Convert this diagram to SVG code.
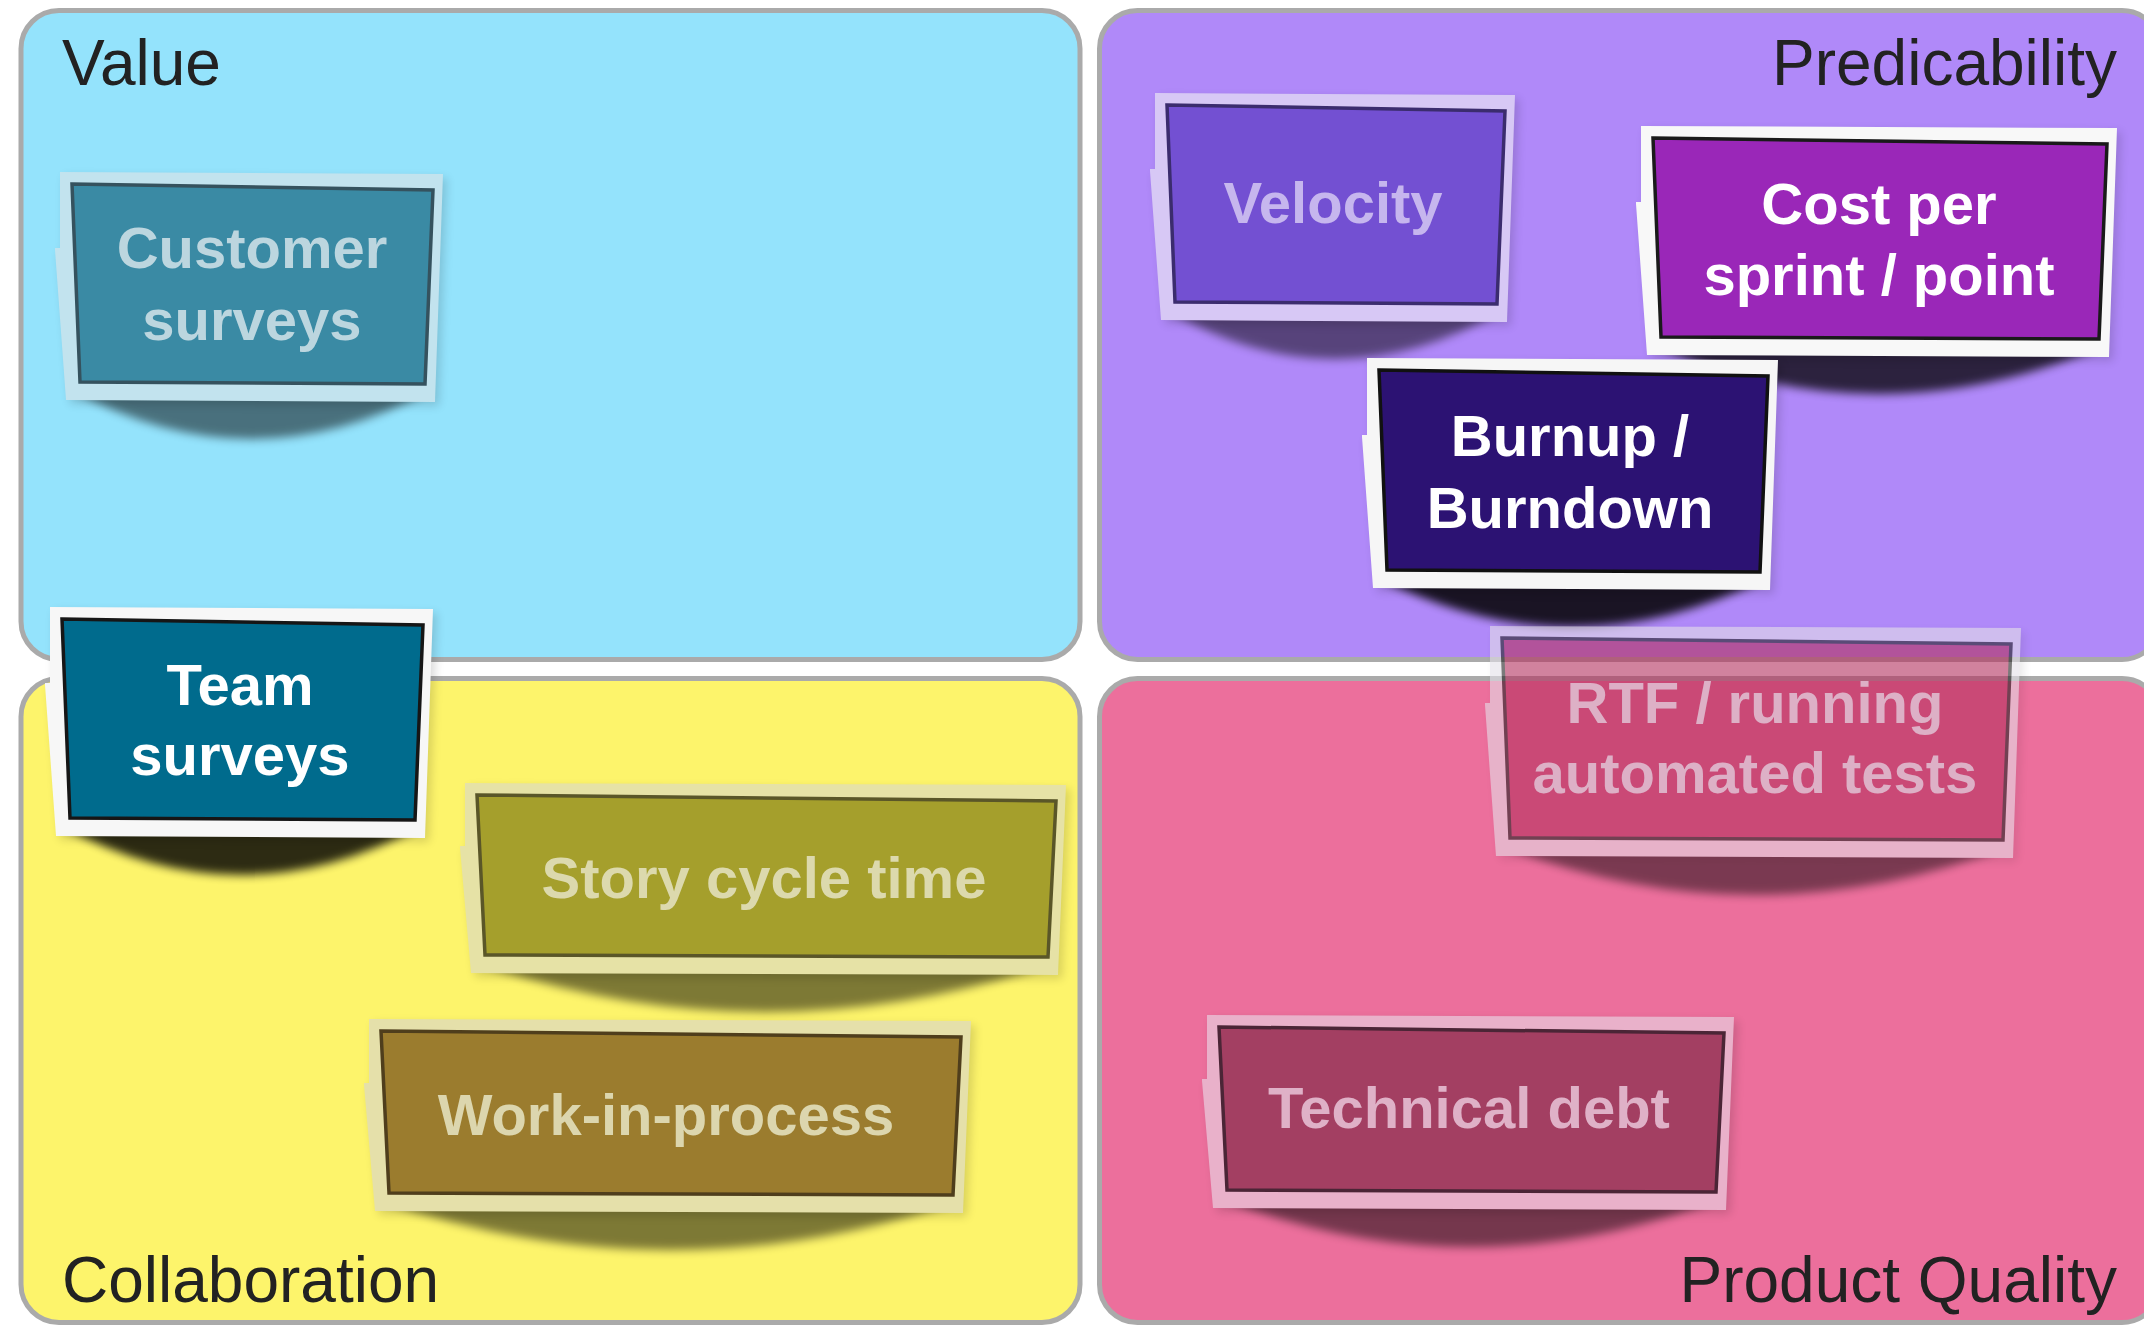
<svg xmlns="http://www.w3.org/2000/svg" width="2144" height="1326" viewBox="0 0 2144 1326">
  <defs>
    <filter id="soft" x="-20%" y="-150%" width="140%" height="400%">
      <feGaussianBlur stdDeviation="5"/>
    </filter>
    <filter id="halo" x="-10%" y="-20%" width="120%" height="140%">
      <feGaussianBlur stdDeviation="5"/>
    </filter>
  </defs>
  <style>
    .panel { stroke: #aaaaaa; stroke-width: 5; }
    .label { font-family: "Liberation Sans", Arial, sans-serif; font-size: 64px; fill: #222222; }
    .card-text { font-family: "Liberation Sans", Arial, sans-serif; font-size: 58px; font-weight: bold; text-anchor: middle; }
    .rim { stroke-width: 3.5; stroke-linejoin: miter; }
    .halo { fill: #000000; opacity: 0.14; filter: url(#halo); }
    .shadow { fill: #000000; filter: url(#soft); }
  </style>

  <!-- quadrant panels -->
  <g id="panels">
    <g id="panel-value">
      <rect class="panel" x="21" y="10.5" width="1059" height="649" rx="38" fill="#94e3fc"/>
      <text class="label" x="62" y="85">Value</text>
    </g>
    <g id="panel-predicability">
      <rect class="panel" x="1099.5" y="10.5" width="1060.5" height="649" rx="38" fill="#b089f9"/>
      <text class="label" x="2117" y="85" text-anchor="end">Predicability</text>
    </g>
    <g id="panel-collaboration">
      <rect class="panel" x="21" y="678.5" width="1059" height="644" rx="38" fill="#fdf46b"/>
      <text class="label" x="62" y="1302">Collaboration</text>
    </g>
    <g id="panel-quality">
      <rect class="panel" x="1099.5" y="678.5" width="1060.5" height="644" rx="38" fill="#ec6f9c"/>
      <text class="label" x="2117" y="1302" text-anchor="end">Product Quality</text>
    </g>
  </g>

  <!-- no connectors in this board -->
  <g id="connectors"/>

  <!-- metric cards: curled-paper shadow, light frame, dark rim, label -->
  <g id="cards">
    <g id="card-customer-surveys">
      <path class="shadow" opacity="0.5" d="M72,390 Q251,488 431,390 Z"/>
      <polygon class="halo" transform="translate(4,4)" points="60,172 443,174 435,402 66,400 55,250 55,248 60,248"/>
      <polygon fill="#c2e3ee" points="60,172 443,174 435,402 66,400 55,250 55,248 60,248"/>
      <polygon class="rim" fill="#3a8aa4" stroke="#35525e" points="72,184 433,190 425,384 80,382"/>
      <text class="card-text" fill="#bcd6df" x="252" y="268">Customer</text>
      <text class="card-text" fill="#bcd6df" x="252" y="340">surveys</text>
    </g>

    <g id="card-velocity">
      <path class="shadow" opacity="0.5" d="M1167,310 Q1335,408 1503,310 Z"/>
      <polygon class="halo" transform="translate(4,4)" points="1155,93 1515,95 1507,322 1161,320 1150,171 1150,169 1155,169"/>
      <polygon fill="#d7c8f5" points="1155,93 1515,95 1507,322 1161,320 1150,171 1150,169 1155,169"/>
      <polygon class="rim" fill="#7350d2" stroke="#3b2c6e" points="1167,105 1505,111 1497,304 1175,302"/>
      <text class="card-text" fill="#c6b6ee" x="1333" y="223">Velocity</text>
    </g>

    <g id="card-cost-per-sprint">
      <path class="shadow" opacity="0.75" d="M1653,345 Q1879,443 2105,345 Z"/>
      <polygon class="halo" transform="translate(4,4)" points="1641,126 2117,128 2109,357 1647,355 1636,204 1636,202 1641,202"/>
      <polygon fill="#f8f8f8" points="1641,126 2117,128 2109,357 1647,355 1636,204 1636,202 1641,202"/>
      <polygon class="rim" fill="#9a27b8" stroke="#1a1a1a" points="1653,138 2107,144 2099,339 1661,337"/>
      <text class="card-text" fill="#ffffff" x="1879" y="224">Cost per</text>
      <text class="card-text" fill="#ffffff" x="1879" y="295">sprint / point</text>
    </g>

    <g id="card-burnup-burndown">
      <path class="shadow" opacity="0.85" d="M1379,578 Q1572,676 1766,578 Z"/>
      <polygon class="halo" transform="translate(4,4)" points="1367,358 1778,360 1770,590 1373,588 1362,437 1362,435 1367,435"/>
      <polygon fill="#f6f6f6" points="1367,358 1778,360 1770,590 1373,588 1362,437 1362,435 1367,435"/>
      <polygon class="rim" fill="#2c1273" stroke="#111111" points="1379,370 1768,376 1760,572 1387,570"/>
      <text class="card-text" fill="#ffffff" x="1570" y="456">Burnup /</text>
      <text class="card-text" fill="#ffffff" x="1570" y="528">Burndown</text>
    </g>

    <g id="card-rtf">
      <g opacity="0.6">
        <path class="shadow" opacity="0.8" d="M1502,846 Q1755,944 2009,846 Z"/>
        <polygon class="halo" transform="translate(4,4)" points="1490,626 2021,628 2013,858 1496,856 1485,705 1485,703 1490,703"/>
        <polygon fill="#e4e0e8" points="1490,626 2021,628 2013,858 1496,856 1485,705 1485,703 1490,703"/>
        <polygon class="rim" fill="#b4305e" stroke="#222222" points="1502,638 2011,644 2003,840 1510,838"/>
      </g>
      <text class="card-text" fill="#ddb0c6" x="1755" y="723">RTF / running</text>
      <text class="card-text" fill="#ddb0c6" x="1755" y="793">automated tests</text>
    </g>

    <g id="card-team-surveys">
      <path class="shadow" opacity="0.82" d="M62,826 Q241,924 421,826 Z"/>
      <polygon class="halo" transform="translate(4,4)" points="50,607 433,609 425,838 56,836 45,685 45,683 50,683"/>
      <polygon fill="#f7f7f7" points="50,607 433,609 425,838 56,836 45,685 45,683 50,683"/>
      <polygon class="rim" fill="#006b8d" stroke="#161616" points="62,619 423,625 415,820 70,818"/>
      <text class="card-text" fill="#ffffff" x="240" y="705">Team</text>
      <text class="card-text" fill="#ffffff" x="240" y="775">surveys</text>
    </g>

    <g id="card-story-cycle-time">
      <path class="shadow" opacity="0.5" d="M477,963 Q765,1061 1054,963 Z"/>
      <polygon class="halo" transform="translate(4,4)" points="465,783 1066,785 1058,975 471,973 460,848 460,846 465,846"/>
      <polygon fill="#e6e2a6" points="465,783 1066,785 1058,975 471,973 460,848 460,846 465,846"/>
      <polygon class="rim" fill="#a59f2c" stroke="#5a5628" points="477,795 1056,801 1048,957 485,955"/>
      <text class="card-text" fill="#dcd9ad" x="764" y="898">Story cycle time</text>
    </g>

    <g id="card-work-in-process">
      <path class="shadow" opacity="0.5" d="M381,1201 Q670,1299 959,1201 Z"/>
      <polygon class="halo" transform="translate(4,4)" points="369,1019 971,1021 963,1213 375,1211 364,1085 364,1083 369,1083"/>
      <polygon fill="#e5e0aa" points="369,1019 971,1021 963,1213 375,1211 364,1085 364,1083 369,1083"/>
      <polygon class="rim" fill="#9b7c2e" stroke="#4f3e1c" points="381,1031 961,1037 953,1195 389,1193"/>
      <text class="card-text" fill="#dcd6ae" x="666" y="1135">Work-in-process</text>
    </g>

    <g id="card-technical-debt">
      <path class="shadow" opacity="0.5" d="M1219,1198 Q1470,1296 1722,1198 Z"/>
      <polygon class="halo" transform="translate(4,4)" points="1207,1015 1734,1017 1726,1210 1213,1208 1202,1081 1202,1079 1207,1079"/>
      <polygon fill="#e9b1ca" points="1207,1015 1734,1017 1726,1210 1213,1208 1202,1081 1202,1079 1207,1079"/>
      <polygon class="rim" fill="#a33f62" stroke="#4b2536" points="1219,1027 1724,1033 1716,1192 1227,1190"/>
      <text class="card-text" fill="#dfb1c7" x="1469" y="1128">Technical debt</text>
    </g>
  </g>
</svg>
